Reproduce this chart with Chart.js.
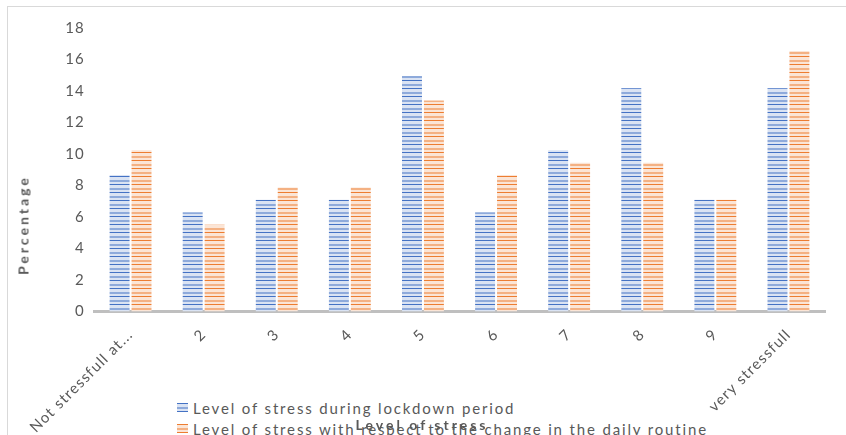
<!DOCTYPE html>
<html>
<head>
<meta charset="utf-8">
<script src="https://cdn.jsdelivr.net/npm/chart.js@4/dist/chart.umd.min.js"></script>
<style>
  html, body { margin: 0; padding: 0; background: #fff; overflow: hidden; }
  #wrap { position: relative; width: 846px; height: 435px; overflow: hidden; font-family: Lato, sans-serif; color: #595959; }
  #frame { position: absolute; left: 7px; top: 6px; width: 900px; height: 500px; border: 1px solid #d9d9d9; box-sizing: border-box; }
  #legend { position: absolute; left: 177px; top: 397px; font-size: 15px; letter-spacing: 1.85px; }
  .item { height: 21px; display: flex; align-items: center; white-space: nowrap; }
  .swatch { width: 11px; height: 9px; margin-right: 5px; }
  .axis-title { position: absolute; font-weight: bold; font-size: 14px; letter-spacing: 3px; white-space: nowrap; transform: translate(-50%, -50%); }
  #yTitle { left: 23px; top: 225px; transform: translate(-50%, -50%) rotate(-90deg); }
  #xTitle { left: 422px; top: 424px; }
  canvas { position: absolute; left: 0; top: 0; }
</style>
</head>
<body>
<div id="wrap">
  <div id="frame"></div>
  <div id="legend"></div>
  <canvas id="myChart" width="846" height="435"></canvas>
  <div class="axis-title" id="yTitle"></div>
  <div class="axis-title" id="xTitle"></div>
</div>
<script>
// --- DATA ---
const categories = ['Not stressfull at...', '2', '3', '4', '5', '6', '7', '8', '9', 'very stressfull'];
const seriesNames = ['Level of stress during lockdown period', 'Level of stress with respect to the change in the daily routine'];
const lockdownStress = [8.66, 6.30, 7.09, 7.09, 14.96, 6.30, 10.24, 14.17, 7.09, 14.17];
const routineStress = [10.24, 5.51, 7.87, 7.87, 13.39, 8.66, 9.45, 9.45, 7.09, 16.54];
const yTickValues = [0, 2, 4, 6, 8, 10, 12, 14, 16, 18];
const xAxisTitle = 'Level of stress';
const yAxisTitle = 'Percentage';

// --- COLOURS (dark line, mid line, light background) ---
const blueShades = ['#4472c4', '#8eaadb', '#dae3f3'];
const orangeShades = ['#ed7d31', '#f4b183', '#fbe5d6'];
const textColor = '#595959';

// horizontal stripes, like the Excel pattern fill
function stripeRows(shades) {
    const [d, m, l] = shades;
    return [d, l, l, l, m, m, l, l];
}

function makeStripes(shades) {
    const c = document.createElement('canvas');
    c.width = 4; c.height = 8;
    const g = c.getContext('2d');
    stripeRows(shades).forEach((col, i) => { g.fillStyle = col; g.fillRect(0, i, 4, 1); });
    return g.createPattern(c, 'repeat');
}

function swatchCss(shades) {
    const rows = stripeRows(shades);
    const stops = rows.map((col, i) => `${col} ${i}px ${i + 1}px`).join(', ');
    return `repeating-linear-gradient(to bottom, ${stops})`;
}

// --- LEGEND + AXIS TITLES (html overlay) ---
const legendElement = document.getElementById('legend');
[blueShades, orangeShades].forEach((shades, i) => {
    const row = document.createElement('div');
    row.className = 'item';
    row.innerHTML = `<span class="swatch" style="background:${swatchCss(shades)}"></span><span>${seriesNames[i]}</span>`;
    legendElement.appendChild(row);
});
document.getElementById('xTitle').textContent = xAxisTitle;
document.getElementById('yTitle').textContent = yAxisTitle;

// canvas text is a bit spaced out in the original
const spacingPlugin = {
    id: 'spacing',
    beforeLayout(chart) { chart.ctx.letterSpacing = '1.2px'; },
    beforeDraw(chart) { chart.ctx.letterSpacing = '1.2px'; }
};

// --- CHART ---
const ctx = document.getElementById('myChart').getContext('2d');
new Chart(ctx, {
    type: 'bar',
    data: {
        labels: categories,
        datasets: [
            { label: seriesNames[0], data: lockdownStress, backgroundColor: makeStripes(blueShades), borderWidth: 0 },
            { label: seriesNames[1], data: routineStress, backgroundColor: makeStripes(orangeShades), borderWidth: 0 }
        ]
    },
    options: {
        responsive: false,
        animation: false,
        devicePixelRatio: 1,
        categoryPercentage: 0.6,
        barPercentage: 0.91,
        layout: { padding: { top: 28, right: 21, bottom: 0, left: 0 } },
        plugins: { legend: { display: false }, tooltip: { enabled: false } },
        scales: {
            x: {
                grid: { display: false, drawTicks: false },
                border: { color: '#bfbfbf', width: 3 },
                ticks: {
                    minRotation: 45, maxRotation: 45, autoSkip: false,
                    color: textColor, padding: 14,
                    font: { family: 'Lato', size: 15 }
                },
                afterFit: scale => { scale.height = 123.5; }
            },
            y: {
                min: 0, max: 18,
                afterBuildTicks: scale => { scale.ticks = yTickValues.map(v => ({ value: v })); },
                grid: { display: false, drawTicks: false },
                border: { display: false },
                ticks: { color: textColor, padding: 9, font: { family: 'Lato', size: 15 } },
                afterFit: scale => { scale.width = 94; }
            }
        }
    },
    plugins: [spacingPlugin]
});
</script>
</body>
</html>
